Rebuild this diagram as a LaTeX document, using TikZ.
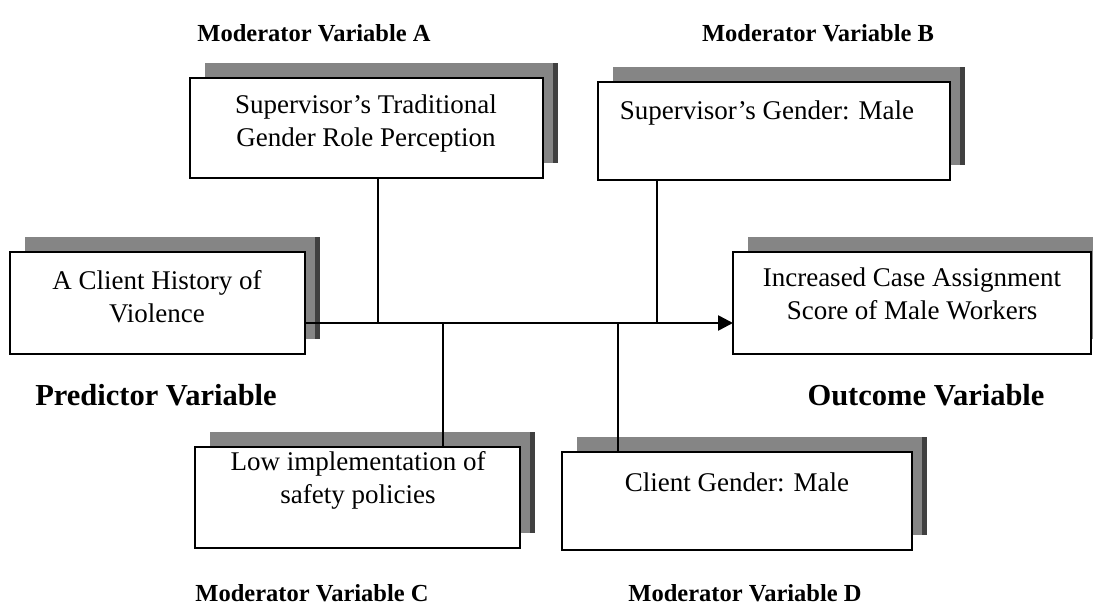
\documentclass[tikz,border=0pt]{standalone}
\usepackage{fontspec}
\setmainfont{Liberation Serif}
\usetikzlibrary{arrows.meta}
\begin{document}
\begin{tikzpicture}[x=1pt,y=-1pt,
  box/.style={draw=black,line width=2.6pt,fill=white},
  shade/.style={fill=black!48,draw=none},
  shadeedge/.style={fill=black!75,draw=none},
  txt/.style={align=center,inner sep=0pt,font=\fontsize{27}{33}\selectfont},
  modlab/.style={inner sep=0pt,font=\fontsize{24.5}{28}\selectfont\bfseries},
  mainlab/.style={inner sep=0pt,font=\fontsize{30.5}{34}\selectfont\bfseries},
  link/.style={draw=black,line width=1.4pt},
  flow/.style={draw=black,line width=2.6pt,-{Triangle[length=15pt,width=15pt]}}]
\useasboundingbox (0,0) rectangle (1093,611);
% shadows
\fill[shade] (205,63) rectangle (558,163);
\fill[shadeedge] (553,63) rectangle (558,163);
\fill[shade] (613,67) rectangle (965,165);
\fill[shadeedge] (960,67) rectangle (965,165);
\fill[shade] (25,237) rectangle (320,339);
\fill[shadeedge] (315,237) rectangle (320,339);
\fill[shade] (748,237) rectangle (1106,339);
\fill[shade] (210,432) rectangle (535,533);
\fill[shadeedge] (530,432) rectangle (535,533);
\fill[shade] (577,437) rectangle (927,535);
\fill[shadeedge] (922,437) rectangle (927,535);
% boxes
\draw[box] (190,78) rectangle (543,178) node[pos=.5,inner sep=0pt] (A) {};
\draw[box] (598,82) rectangle (950,180) node[pos=.5,inner sep=0pt] (B) {};
\draw[box] (10,252) rectangle (305,354) node[pos=.5,inner sep=0pt] (P) {};
\draw[box] (733,252) rectangle (1091,354) node[pos=.5,inner sep=0pt] (O) {};
\draw[box] (195,447) rectangle (520,548) node[pos=.5,inner sep=0pt] (C) {};
\draw[box] (562,452) rectangle (912,550) node[pos=.5,inner sep=0pt] (D) {};
% texts
\node[txt] (At) at (366,124) {Supervisor’s Traditional\\Gender Role Perception};
\node[txt] (Bt) at (767,113) {Supervisor’s Gender: Male};
\node[txt] (Pt) at (157,297) {A Client History of\\Violence};
\node[txt] (Ot) at (912,294) {Increased Case Assignment\\Score of Male Workers};
\node[txt] (Ct) at (358,480) {Low implementation of\\safety policies};
\node[txt] (Dt) at (737,482) {Client Gender: Male};
% labels
\node[modlab] (LA) at (314,33) {Moderator Variable A};
\node[modlab] (LB) at (818,33) {Moderator Variable B};
\node[mainlab] (LP) at (156,395) {Predictor Variable};
\node[mainlab] (LO) at (926,395) {Outcome Variable};
\node[modlab] (LC) at (312,593) {Moderator Variable C};
\node[modlab] (LD) at (745,593) {Moderator Variable D};
% connectors
\coordinate (ja) at (378,323);
\coordinate (jb) at (657,323);
\coordinate (jc) at (443,323);
\coordinate (jd) at (618,323);
\coordinate (pe) at (306,323);
\coordinate (ow) at (733,323);
\draw[flow] (pe) -- (ow);
\draw[link] (ja |- 0,179) -- (ja);
\draw[link] (jb |- 0,181) -- (jb);
\draw[link] (jc) -- (jc |- 0,447);
\draw[link] (jd) -- (jd |- 0,452);
\end{tikzpicture}
\end{document}
